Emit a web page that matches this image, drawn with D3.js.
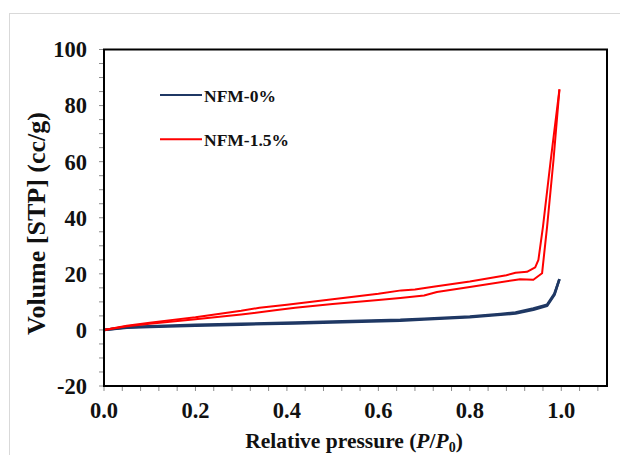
<!DOCTYPE html>
<html>
<head>
<meta charset="utf-8">
<script src="https://cdn.jsdelivr.net/npm/d3@7"></script>
<style>
  body { margin: 0; background: #fff; }
  text { font-family: "Liberation Serif", "Times New Roman", serif; font-weight: bold; fill: #111; }
</style>
</head>
<body>
<div id="chart"></div>
<script>
// Relative pressure (P/P0) and volume (cc/g)
var series = ["NFM-0%", "NFM-1.5%"];
var colors = ["#1f3864", "#ff0000"];

var blueAdsP = [0, 0.05, 0.1, 0.2, 0.3, 0.418, 0.5, 0.648, 0.7, 0.8, 0.867, 0.9, 0.939, 0.969, 0.985, 0.996];
var blueAdsV = [0, 0.8, 1.1, 1.5, 1.9, 2.3, 2.7, 3.3, 3.7, 4.5, 5.4, 5.9, 7.2, 8.6, 12.5, 18.1];
var blueDesP = [0, 0.05, 0.1, 0.2, 0.3, 0.418, 0.5, 0.648, 0.7, 0.8, 0.867, 0.9, 0.939, 0.969, 0.985, 0.996];
var blueDesV = [0, 1.0, 1.3, 1.8, 2.2, 2.6, 3.0, 3.6, 4.0, 4.8, 5.7, 6.2, 7.6, 9.0, 12.9, 18.1];

var redAdsP = [0, 0.05, 0.1, 0.2, 0.3, 0.374, 0.418, 0.5, 0.6, 0.648, 0.7, 0.728, 0.8, 0.899, 0.91, 0.939, 0.958, 0.969, 0.983, 0.996];
var redAdsV = [0, 1.3, 2.2, 3.8, 5.5, 7.0, 7.9, 9.2, 10.7, 11.4, 12.3, 13.5, 15.3, 17.8, 18.1, 17.9, 20.2, 36.8, 60.6, 85.8];
var redDesP = [0, 0.05, 0.1, 0.2, 0.3, 0.34, 0.4, 0.5, 0.6, 0.65, 0.68, 0.72, 0.8, 0.88, 0.9, 0.925, 0.943, 0.95, 0.96, 0.977, 0.996];
var redDesV = [0, 1.5, 2.6, 4.5, 6.8, 7.9, 9.0, 10.9, 12.9, 14.1, 14.4, 15.4, 17.3, 19.5, 20.4, 20.7, 22.3, 25, 36.8, 60.6, 85.8];

var xTicks = [0, 0.2, 0.4, 0.6, 0.8, 1.0];
var yTicks = [-20, 0, 20, 40, 60, 80, 100];

var width = 620, height = 455;
var margin = { left: 104, right: 13, top: 49.5, bottom: 69 };

var svg = d3.select("#chart").append("svg").attr("width", width).attr("height", height);

// light outer frame
svg.append("rect").attr("x", 9.5).attr("y", 13.5).attr("width", 640).attr("height", 480)
  .attr("fill", "none").attr("stroke", "#d9d9d9").attr("stroke-width", 1);

var x = d3.scaleLinear().domain([0, 1.1]).range([margin.left, width - margin.right]);
var y = d3.scaleLinear().domain([-20, 100]).range([height - margin.bottom, margin.top]);

// minor + major ticks
var g = svg.append("g");
var xMinor = d3.range(0, 1.1, 0.04);
g.selectAll(".xt").data(xMinor).enter().append("line")
  .attr("x1", function (d) { return x(d); }).attr("x2", function (d) { return x(d); })
  .attr("y1", y(-20)).attr("y2", y(-20) + 5)
  .attr("stroke", "#8c8c8c").attr("stroke-width", 1);
var yMinor = d3.range(-20, 101, 5);
g.selectAll(".yt").data(yMinor).enter().append("line")
  .attr("x1", x(0) - 5).attr("x2", x(0))
  .attr("y1", function (d) { return y(d); }).attr("y2", function (d) { return y(d); })
  .attr("stroke", "#8c8c8c").attr("stroke-width", 1);

g.selectAll(".xl").data(xTicks).enter().append("text")
  .attr("x", function (d) { return x(d); }).attr("y", 418)
  .attr("text-anchor", "middle").attr("font-size", 22.5)
  .text(function (d) { return d.toFixed(1); });
g.selectAll(".yl").data(yTicks).enter().append("text")
  .attr("x", 87).attr("y", function (d) { return y(d); }).attr("dy", "0.35em")
  .attr("text-anchor", "end").attr("font-size", 22.5)
  .text(function (d) { return d; });

// curves
var line = d3.line()
  .x(function (d) { return x(d[0]); })
  .y(function (d) { return y(d[1]); });

function pts(p, v) { return p.map(function (d, i) { return [d, v[i]]; }); }

var curves = [
  { c: 0, d: pts(blueAdsP, blueAdsV), w: 2.6 },
  { c: 0, d: pts(blueDesP, blueDesV), w: 2.6 },
  { c: 1, d: pts(redAdsP, redAdsV), w: 2 },
  { c: 1, d: pts(redDesP, redDesV), w: 2 }
];
svg.selectAll(".curve").data(curves).enter().append("path")
  .attr("d", function (d) { return line(d.d); })
  .attr("fill", "none")
  .attr("stroke", function (d) { return colors[d.c]; })
  .attr("stroke-width", function (d) { return d.w; })
  .attr("stroke-linejoin", "round");

// plot frame
svg.append("rect").attr("x", x(0)).attr("y", y(100))
  .attr("width", x(1.1) - x(0)).attr("height", y(-20) - y(100))
  .attr("fill", "none").attr("stroke", "#000").attr("stroke-width", 2);

// legend
var leg = svg.selectAll(".leg").data(series).enter().append("g")
  .attr("transform", function (d, i) { return "translate(160," + (95 + i * 44.3) + ")"; });
leg.append("line").attr("x1", 0).attr("x2", 42)
  .attr("stroke", function (d, i) { return colors[i]; }).attr("stroke-width", 2);
leg.append("text").attr("x", 44).attr("y", 6.5).attr("font-size", 17.5)
  .text(function (d) { return d; });

// axis titles
svg.append("text").attr("transform", "translate(44.5,223.5) rotate(-90)")
  .attr("text-anchor", "middle").attr("font-size", 26)
  .text("Volume [STP] (cc/g)");

var xt = svg.append("text").attr("x", 354).attr("y", 448)
  .attr("text-anchor", "middle").attr("font-size", 21.5);
xt.append("tspan").text("Relative pressure (");
xt.append("tspan").attr("font-style", "italic").text("P");
xt.append("tspan").text("/");
xt.append("tspan").attr("font-style", "italic").text("P");
xt.append("tspan").attr("font-size", 14).attr("dy", 4).text("0");
xt.append("tspan").attr("dy", -4).text(")");
</script>
</body>
</html>
